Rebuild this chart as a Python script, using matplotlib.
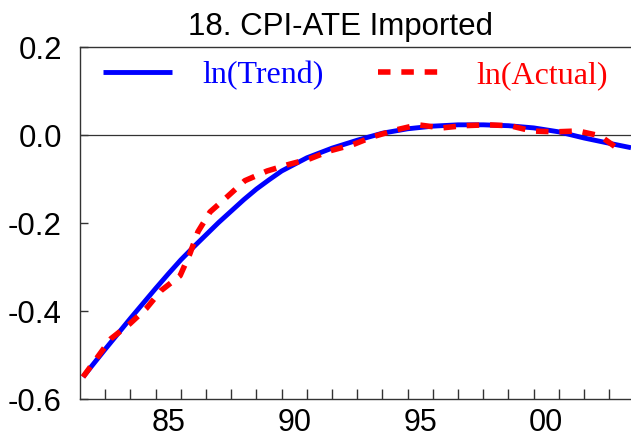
import matplotlib
matplotlib.use("Agg")
import matplotlib.pyplot as plt
import numpy as np

# values (decimal years, log levels)
trend_t = [1982.12, 1983.0, 1984.0, 1985.0, 1985.5, 1986.0, 1986.5, 1987.0, 1987.5,
           1988.0, 1988.5, 1989.0, 1989.5, 1990.0, 1991.0, 1992.0, 1993.0, 1994.0,
           1995.0, 1996.0, 1997.0, 1998.0, 1999.0, 2000.0, 2001.0, 2002.0, 2003.0,
           2003.86]
trend_v = [-0.551, -0.488, -0.418, -0.350, -0.317, -0.285, -0.256, -0.228, -0.200,
           -0.174, -0.148, -0.124, -0.103, -0.083, -0.053, -0.031, -0.013, 0.003,
           0.013, 0.019, 0.022, 0.022, 0.020, 0.015, 0.006, -0.008, -0.020,
           -0.030]

actual_t = [1982.12, 1983.23, 1983.98, 1984.62, 1985.21, 1985.97, 1986.36, 1986.68,
            1987.16, 1987.83, 1988.54, 1989.42, 1990.22, 1991.13, 1991.92, 1992.83,
            1993.62, 1994.58, 1995.41, 1996.36, 1997.19, 1998.15, 1999.06, 1999.93,
            2000.85, 2001.76, 2002.63, 2003.50]
actual_v = [-0.551, -0.464, -0.430, -0.396, -0.355, -0.321, -0.271, -0.221,
            -0.176, -0.142, -0.105, -0.083, -0.069, -0.055, -0.037, -0.023,
            -0.005, 0.011, 0.022, 0.015, 0.020, 0.022, 0.020, 0.008,
            0.006, 0.008, -0.003, -0.039]

years = list(range(1983, 2004))
label_pos = [1985.5, 1990.5, 1995.5, 2000.5]
label_txt = ["85", "90", "95", "00"]
yticks = [-0.6, -0.4, -0.2, 0.0, 0.2]

sans = "Liberation Sans"
serif = "Liberation Serif"

fig = plt.figure(figsize=(6.31, 4.39), dpi=100)
ax = fig.add_axes([80 / 631, 39.5 / 439, 1 - 80 / 631, 352 / 439])

ax.axhline(0, color="#333333", lw=0.9, zorder=1)
ax.plot(trend_t, trend_v, color="#0000ff", lw=3.5, solid_capstyle="butt",
        solid_joinstyle="round", label="ln(Trend)", zorder=2)
ax.plot(actual_t, actual_v, color="#ff0000", lw=4.0, ls=(0, (2.25, 1.95)),
        label="ln(Actual)", zorder=3)

ax.set_xlim(1982.0, 2003.86)
ax.set_ylim(-0.6, 0.2)

ax.set_xticks(years)
ax.set_xticklabels([])
ax.set_xticks(label_pos, minor=True)
ax.set_xticklabels(label_txt, minor=True, fontsize=22, family=sans)
ax.tick_params(axis="x", which="major", direction="in", length=7, width=1,
               color="#333333")
ax.tick_params(axis="x", which="minor", length=0, pad=6)

ax.set_yticks(yticks)
ax.set_yticklabels([f"{v:.1f}" for v in yticks], fontsize=22.5, family=sans)
ax.tick_params(axis="y", direction="in", length=6, width=1, pad=13,
               color="#333333")

for s in ["left", "bottom", "top"]:
    ax.spines[s].set_color("#333333")
    ax.spines[s].set_linewidth(1.0)
ax.spines["right"].set_visible(False)

leg = ax.legend(loc="center left", bbox_to_anchor=(23 / 551, (399.5 - 76) / 352),
                ncol=2, frameon=False, handlelength=2.16, handletextpad=0.94,
                columnspacing=1.7, borderpad=0, borderaxespad=0,
                prop={"family": serif, "size": 23})
for txt, c in zip(leg.get_texts(), ["#0000ff", "#ff0000"]):
    txt.set_color(c)

fig.text(340 / 631, (439 - 35) / 439, "18. CPI-ATE Imported", ha="center",
         va="baseline", fontsize=22.5, family=sans)

fig.savefig("out.png", dpi=100)
